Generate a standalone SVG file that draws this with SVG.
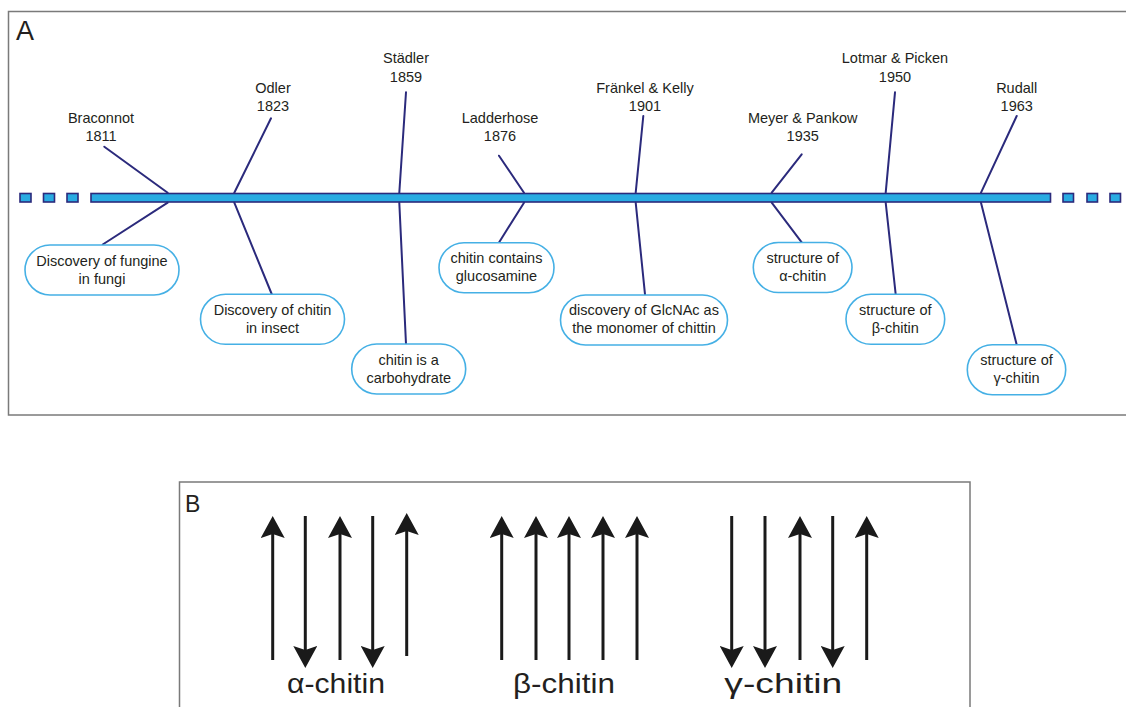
<svg xmlns="http://www.w3.org/2000/svg" width="1126" height="707" viewBox="0 0 1126 707">
<defs>
<style>
.frame{fill:none;stroke:#7a7a7a;stroke-width:1.5}
.bar{fill:#29abe2;stroke:#2b2a7c;stroke-width:1.6}
.conn{stroke:#2b2a7c;stroke-width:2;fill:none;stroke-linecap:round}
.box{fill:#fff;stroke:#45b0e5;stroke-width:1.6}
.t{font-family:"Liberation Sans",Arial,sans-serif;font-size:14.5px;fill:#231f20;text-anchor:middle}
.big{font-family:"Liberation Sans",Arial,sans-serif;font-size:28px;fill:#231f20;text-anchor:middle}
.panel{font-family:"Liberation Sans",Arial,sans-serif;fill:#231f20}
.arr{stroke:#1a1a1a;stroke-width:3;fill:none;marker-end:url(#head)}
</style>
<marker id="head" viewBox="0 -12 22 24" refX="4" refY="0" markerWidth="22" markerHeight="24" markerUnits="userSpaceOnUse" orient="auto">
<path d="M0,-12 L22,0 L0,12 L4,0 Z" fill="#1a1a1a"/>
</marker>
</defs>

<!-- Panel A -->
<rect class="frame" x="8.5" y="11.5" width="1130" height="403.5"/>
<text class="panel" x="16" y="39.5" font-size="27">A</text>

<g id="timeline">
<rect class="bar" x="20" y="193.5" width="11" height="8.5"/>
<rect class="bar" x="43.5" y="193.5" width="11" height="8.5"/>
<rect class="bar" x="67" y="193.5" width="11" height="8.5"/>
<rect class="bar" x="91" y="193.5" width="959.5" height="8.5"/>
<rect class="bar" x="1063" y="193.5" width="10.5" height="8.5"/>
<rect class="bar" x="1087" y="193.5" width="10.5" height="8.5"/>
<rect class="bar" x="1110" y="193.5" width="10.5" height="8.5"/>
</g>

<g id="connectors">
<line class="conn" x1="104.3" y1="146.7" x2="167.7" y2="192.7"/>
<line class="conn" x1="167.7" y1="202.7" x2="102.7" y2="244.5"/>
<line class="conn" x1="271" y1="118.3" x2="234.3" y2="192.7"/>
<line class="conn" x1="234.3" y1="202.7" x2="271.7" y2="294"/>
<line class="conn" x1="406" y1="92.3" x2="399.3" y2="192.7"/>
<line class="conn" x1="399.3" y1="202.7" x2="406" y2="344"/>
<line class="conn" x1="499" y1="155.7" x2="524" y2="192.7"/>
<line class="conn" x1="524" y1="202.7" x2="499" y2="242.5"/>
<line class="conn" x1="643.3" y1="116" x2="635.7" y2="192.7"/>
<line class="conn" x1="635.7" y1="202.7" x2="645" y2="294.3"/>
<line class="conn" x1="801.7" y1="154.3" x2="771.7" y2="192.7"/>
<line class="conn" x1="771.7" y1="202.7" x2="801.7" y2="242.3"/>
<line class="conn" x1="895" y1="92.3" x2="885.7" y2="192.7"/>
<line class="conn" x1="885.7" y1="202.7" x2="895.7" y2="294.3"/>
<line class="conn" x1="1016.7" y1="116" x2="981" y2="192.7"/>
<line class="conn" x1="981" y1="202.7" x2="1016.7" y2="344.7"/>
</g>

<g id="braconnot">
<text class="t" x="101" y="123">Braconnot</text>
<text class="t" x="101" y="141">1811</text>
<rect class="box" x="25" y="245" width="154" height="50" rx="25"/>
<text class="t" x="102" y="265.5">Discovery of fungine</text>
<text class="t" x="102" y="283.5">in fungi</text>
</g>

<g id="odler">
<text class="t" x="273" y="93">Odler</text>
<text class="t" x="273" y="111">1823</text>
<rect class="box" x="200.5" y="294.3" width="144" height="50" rx="25"/>
<text class="t" x="272.5" y="314.5">Discovery of chitin</text>
<text class="t" x="272.5" y="332.5">in insect</text>
</g>

<g id="stadler">
<text class="t" x="406" y="62.7">Städler</text>
<text class="t" x="406" y="81.7">1859</text>
<rect class="box" x="351.7" y="344" width="114" height="50" rx="25"/>
<text class="t" x="408.7" y="364.5">chitin is a</text>
<text class="t" x="408.7" y="382.5">carbohydrate</text>
</g>

<g id="ladderhose">
<text class="t" x="500" y="123">Ladderhose</text>
<text class="t" x="500" y="141">1876</text>
<rect class="box" x="439" y="242.7" width="115" height="50" rx="25"/>
<text class="t" x="496.5" y="263">chitin contains</text>
<text class="t" x="496.5" y="281">glucosamine</text>
</g>

<g id="frankel">
<text class="t" x="645" y="92.7">Fränkel &amp; Kelly</text>
<text class="t" x="645" y="111">1901</text>
<rect class="box" x="560.5" y="295" width="167" height="50" rx="25"/>
<text class="t" x="644" y="315">discovery of GlcNAc as</text>
<text class="t" x="644" y="333">the monomer of chittin</text>
</g>

<g id="meyer">
<text class="t" x="802.7" y="123">Meyer &amp; Pankow</text>
<text class="t" x="802.7" y="141">1935</text>
<rect class="box" x="753.3" y="242.5" width="98.7" height="50" rx="25"/>
<text class="t" x="802.7" y="263">structure of</text>
<text class="t" x="802.7" y="281">α-chitin</text>
</g>

<g id="lotmar">
<text class="t" x="895" y="62.7">Lotmar &amp; Picken</text>
<text class="t" x="895" y="81.7">1950</text>
<rect class="box" x="846" y="294.3" width="98.7" height="50" rx="25"/>
<text class="t" x="895.3" y="314.5">structure of</text>
<text class="t" x="895.3" y="332.5">β-chitin</text>
</g>

<g id="rudall">
<text class="t" x="1016.7" y="92.7">Rudall</text>
<text class="t" x="1016.7" y="111">1963</text>
<rect class="box" x="967.3" y="344.7" width="98.4" height="50" rx="25"/>
<text class="t" x="1016.5" y="365">structure of</text>
<text class="t" x="1016.5" y="383">γ-chitin</text>
</g>

<!-- Panel B -->
<rect class="frame" x="179.5" y="482" width="790.5" height="240"/>
<text class="panel" x="185" y="511.7" font-size="23">B</text>

<g id="alpha">
<line class="arr" x1="272.7" y1="660" x2="272.7" y2="534"/>
<line class="arr" x1="305.3" y1="516" x2="305.3" y2="650"/>
<line class="arr" x1="340" y1="660" x2="340" y2="534"/>
<line class="arr" x1="372.7" y1="516" x2="372.7" y2="650"/>
<line class="arr" x1="406.7" y1="656" x2="406.7" y2="531"/>
<text class="big" x="336" y="693.3" textLength="98" lengthAdjust="spacingAndGlyphs">α-chitin</text>
</g>

<g id="beta">
<line class="arr" x1="501.7" y1="660" x2="501.7" y2="534"/>
<line class="arr" x1="536" y1="660" x2="536" y2="534"/>
<line class="arr" x1="569" y1="660" x2="569" y2="534"/>
<line class="arr" x1="603" y1="660" x2="603" y2="534"/>
<line class="arr" x1="637" y1="660" x2="637" y2="534"/>
<text class="big" x="564" y="693.3" textLength="102" lengthAdjust="spacingAndGlyphs">β-chitin</text>
</g>

<g id="gamma">
<line class="arr" x1="731.7" y1="516" x2="731.7" y2="650"/>
<line class="arr" x1="765" y1="516" x2="765" y2="650"/>
<line class="arr" x1="800" y1="660" x2="800" y2="534"/>
<line class="arr" x1="832.7" y1="516" x2="832.7" y2="650"/>
<line class="arr" x1="866.7" y1="660" x2="866.7" y2="534"/>
<text class="big" x="783.3" y="693.3" font-size="30" textLength="118" lengthAdjust="spacingAndGlyphs">γ-chitin</text>
</g>
</svg>
